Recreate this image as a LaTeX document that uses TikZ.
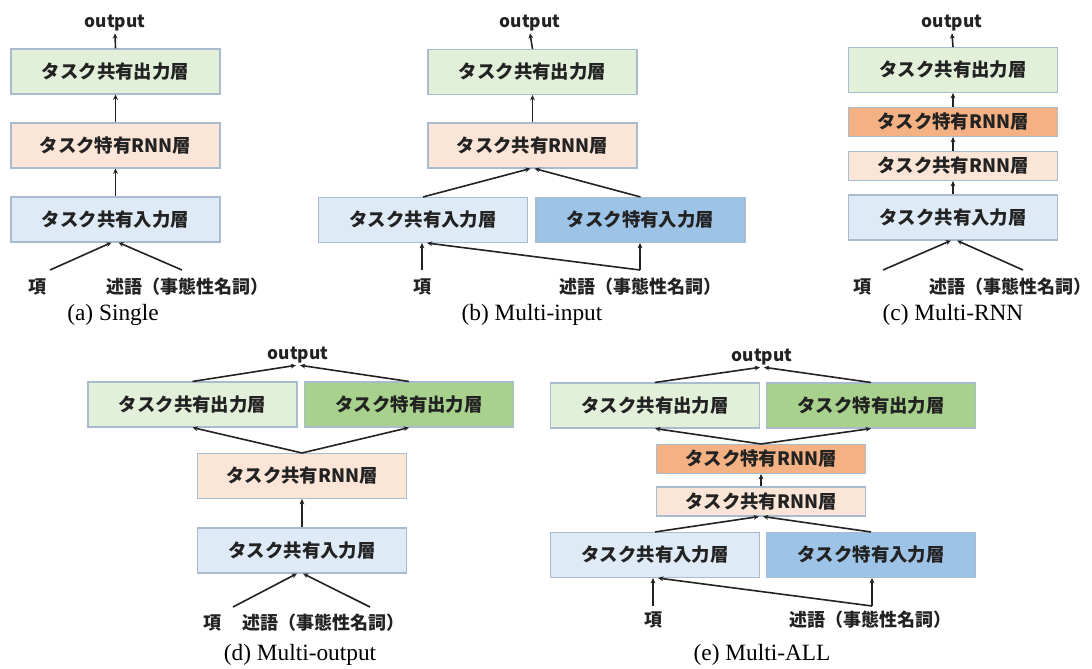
\documentclass[tikz,border=0pt]{standalone}
\usepackage{fontspec}
\newfontfamily\jp{Noto Sans CJK JP}
\newfontfamily\capf{Liberation Serif}
\usetikzlibrary{arrows.meta,calc}
\definecolor{lgreen}{HTML}{E2F0D9}
\definecolor{dgreen}{HTML}{A9D18E}
\definecolor{lorange}{HTML}{FBE5D6}
\definecolor{dorange}{HTML}{F4B183}
\definecolor{lblue}{HTML}{DEEBF7}
\definecolor{dblue}{HTML}{9DC3E6}
\definecolor{bordc}{HTML}{A9BCCF}
\definecolor{inkc}{HTML}{222222}
\tikzset{
  layer/.style={draw=bordc, line width=0.8pt, minimum width=156.75pt, minimum height=33.75pt, inner sep=0pt, text=inkc, font=\jp\bfseries\fontsize{13.8}{15}\selectfont},
  thin layer/.style={layer, minimum height=21.75pt},
  jtxt/.style={inner sep=1pt, text=inkc, font=\jp\bfseries\fontsize{13.5}{15}\selectfont},
  outtxt/.style={inner sep=1.5pt, text=inkc, font=\jp\bfseries\fontsize{13}{15}\selectfont},
  captxt/.style={inner sep=0pt, font=\capf\fontsize{17.5}{20}\selectfont},
  arr/.style={draw=inkc, line width=1.2pt, -{Stealth[length=4pt,width=3.6pt]}},
}
\begin{document}
\begin{tikzpicture}[x=0.75pt,y=-0.75pt]
\useasboundingbox[fill=white] (0,0) rectangle (1092,668);

% ---------------- (a) Single ----------------
\node[outtxt] (aOut) at (115,23) {output};
\node[layer, fill=lgreen] (aG) at (115.5,71.5) {タスク共有出力層};
\node[layer, fill=lorange] (aR) at (115.5,145.5) {タスク特有RNN層};
\node[layer, fill=lblue] (aI) at (115.5,219.5) {タスク共有入力層};
\node[jtxt] (aK) at (37,287) {項};
\node[jtxt] (aJ) at (187,287) {述語（事態性名詞）};
\node[captxt] (aC) at (113,315) {(a) Single};
\coordinate (aKt) at (50,270);
\coordinate (aJt) at (182,270);
\draw[arr] (aG.north) -- (aOut.south);
\draw[arr] (aR.north) -- (aG.south);
\draw[arr] (aI.north) -- (aR.south);
\draw[arr] (aKt) -- ($(aI.south)+(-4,0)$);
\draw[arr] (aJt) -- ($(aI.south)+(3,0)$);

% ---------------- (b) Multi-input ----------------
\node[outtxt] (bOut) at (530,23) {output};
\node[layer, fill=lgreen] (bG) at (532.5,72) {タスク共有出力層};
\node[layer, fill=lorange] (bR) at (532.5,145.5) {タスク共有RNN層};
\node[layer, fill=lblue] (bI1) at (423,220) {タスク共有入力層};
\node[layer, fill=dblue] (bI2) at (640.5,220) {タスク特有入力層};
\node[jtxt] (bK) at (422,287) {項};
\node[jtxt] (bJ) at (640,287) {述語（事態性名詞）};
\node[captxt] (bC) at (532,315) {(b) Multi-input};
\coordinate (bKt) at (422,270);
\coordinate (bJt) at (640,270);
\draw[arr] (bG.north) -- (bOut.south);
\draw[arr] (bR.north) -- (bG.south);
\draw[arr] (bI1.north) -- ($(bR.south)+(-2,0)$);
\draw[arr] (bI2.north) -- ($(bR.south)+(2,0)$);
\draw[arr] (bKt) -- (bKt |- bI1.south);
\draw[arr] (bJt) -- (bJt |- bI2.south);
\draw[arr] (bJt) -- ($(bI1.south)+(4,0)$);

% ---------------- (c) Multi-RNN ----------------
\node[outtxt] (cOut) at (952,23) {output};
\node[layer, fill=lgreen] (cG) at (953,70) {タスク共有出力層};
\node[thin layer, fill=dorange] (cR2) at (953,122) {タスク特有RNN層};
\node[thin layer, fill=lorange] (cR1) at (953,166) {タスク共有RNN層};
\node[layer, fill=lblue] (cI) at (953,217.5) {タスク共有入力層};
\node[jtxt] (cK) at (862,287) {項};
\node[jtxt] (cJ) at (1010,287) {述語（事態性名詞）};
\node[captxt] (cC) at (953,315) {(c) Multi-RNN};
\coordinate (cKt) at (883,270);
\coordinate (cJt) at (1023,270);
\draw[arr] (cG.north) -- (cOut.south);
\draw[arr] (cR2.north) -- (cG.south);
\draw[arr] (cR1.north) -- (cR2.south);
\draw[arr] (cI.north) -- (cR1.south);
\draw[arr] (cKt) -- ($(cI.south)+(-2,0)$);
\draw[arr] (cJt) -- ($(cI.south)+(4,0)$);

% ---------------- (d) Multi-output ----------------
\node[outtxt] (dOut) at (298,355) {output};
\node[layer, fill=lgreen] (dG1) at (192.5,404.5) {タスク共有出力層};
\node[layer, fill=dgreen] (dG2) at (409,404.5) {タスク特有出力層};
\node[layer, fill=lorange] (dR) at (302,476) {タスク共有RNN層};
\node[layer, fill=lblue] (dI) at (302,550.5) {タスク共有入力層};
\node[jtxt] (dK) at (212,623) {項};
\node[jtxt] (dJ) at (323,623) {述語（事態性名詞）};
\node[captxt] (dC) at (300,655) {(d) Multi-output};
\coordinate (dKt) at (233,607);
\coordinate (dJt) at (370,607);
\draw[arr] (dG1.north) -- ($(dOut.south)+(-2,0)$);
\draw[arr] (dG2.north) -- ($(dOut.south)+(2,0)$);
\draw[arr] (dR.north) -- (dG1.south);
\draw[arr] (dR.north) -- (dG2.south);
\draw[arr] (dI.north) -- (dR.south);
\draw[arr] (dKt) -- ($(dI.south)+(-5,0)$);
\draw[arr] (dJt) -- ($(dI.south)+(1,0)$);

% ---------------- (e) Multi-ALL ----------------
\node[outtxt] (eOut) at (762,357) {output};
\node[layer, fill=lgreen] (eG1) at (655,405.5) {タスク共有出力層};
\node[layer, fill=dgreen] (eG2) at (871,405.5) {タスク特有出力層};
\node[thin layer, fill=dorange] (eR2) at (761,459) {タスク特有RNN層};
\node[thin layer, fill=lorange] (eR1) at (761,501.5) {タスク共有RNN層};
\node[layer, fill=lblue] (eI1) at (655,555) {タスク共有入力層};
\node[layer, fill=dblue] (eI2) at (871,555) {タスク特有入力層};
\node[jtxt] (eK) at (653,620) {項};
\node[jtxt] (eJ) at (870,620) {述語（事態性名詞）};
\node[captxt] (eC) at (762,655) {(e) Multi-ALL};
\coordinate (eKt) at (653,606);
\coordinate (eJt) at (872,606);
\draw[arr] (eG1.north) -- ($(eOut.south)+(-2,0)$);
\draw[arr] (eG2.north) -- ($(eOut.south)+(2,0)$);
\draw[arr] (eR2.north) -- (eG1.south);
\draw[arr] (eR2.north) -- (eG2.south);
\draw[arr] (eR1.north) -- (eR2.south);
\draw[arr] (eI1.north) -- ($(eR1.south)+(-2,0)$);
\draw[arr] (eI2.north) -- ($(eR1.south)+(2,0)$);
\draw[arr] (eKt) -- (eKt |- eI1.south);
\draw[arr] (eJt) -- (eJt |- eI2.south);
\draw[arr] (eJt) -- ($(eI1.south)+(3,0)$);
\end{tikzpicture}
\end{document}
